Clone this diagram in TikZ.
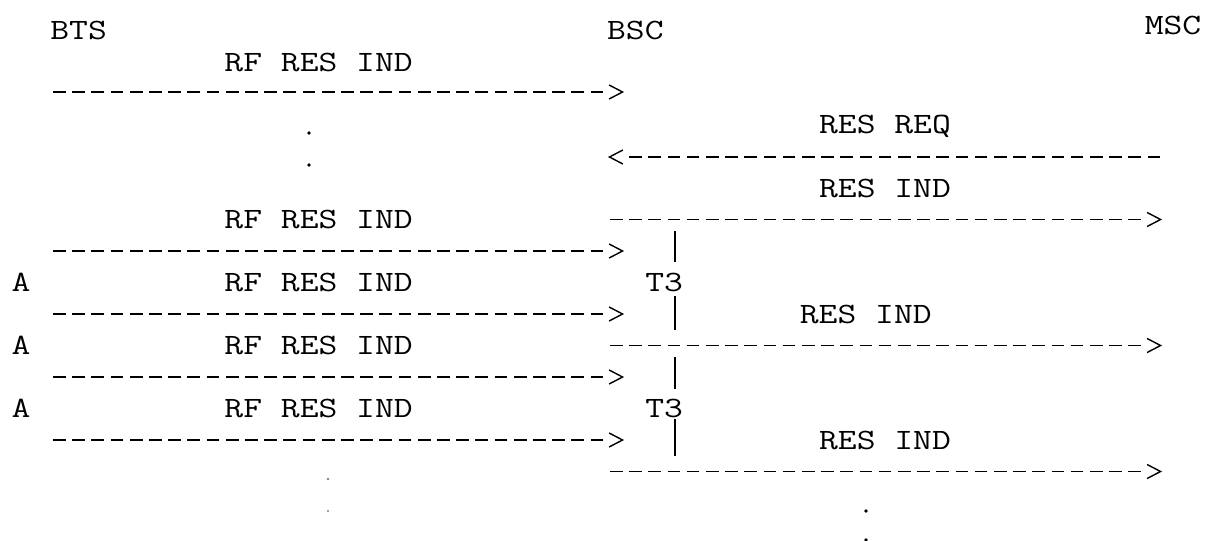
\documentclass[tikz,border=0pt]{standalone}
\usepackage{fontspec}
\usepackage{graphicx}
\newcommand\lbfont{\ttfamily\fontsize{29.5}{30}\selectfont}
\newcommand\tw[1]{\scalebox{1.239}[1]{#1}}
\tikzset{
  lbl/.style={font=\lbfont, anchor=base, inner sep=0pt},
  dl/.style={line width=1.4pt, dash pattern=on 12.7pt off 6.5pt},
  hd/.style={line width=1.4pt, line join=miter},
  bar/.style={line width=1.5pt},
  dot/.style={fill=black, draw=none}
}
\newcommand\rightmsg[2]{%
  \draw[dl] (#1) -- ([xshift=-19.2pt]#2);
  \draw[hd] ([xshift=-13.5pt,yshift=7pt]#2) -- (#2) -- ([xshift=-13.5pt,yshift=-7pt]#2);}
\newcommand\leftmsg[2]{%
  \draw[dl] (#1) -- ([xshift=19.6pt]#2);
  \draw[hd] ([xshift=13.5pt,yshift=7pt]#2) -- (#2) -- ([xshift=13.5pt,yshift=-7pt]#2);}
\begin{document}
\begin{tikzpicture}[x=1pt,y=-1pt]
\useasboundingbox (0,0) rectangle (1208,541);
% headers
\node[lbl] (bts) at (78.6,39.5) {\tw{BTS}};
\node[lbl] (bsc) at (635.4,39.5) {\tw{BSC}};
\node[lbl] (msc) at (1173,34) {\tw{MSC}};
% left labels
\node[lbl] (rf1) at (318.6,71) {\tw{RF RES IND}};
\node[lbl] (rf2) at (318.6,228.5) {\tw{RF RES IND}};
\node[lbl] (rf3) at (318.6,291.5) {\tw{RF RES IND}};
\node[lbl] (rf4) at (318.6,354.5) {\tw{RF RES IND}};
\node[lbl] (rf5) at (318.6,417.5) {\tw{RF RES IND}};
\node[lbl] (a1) at (21,291.5) {\tw{A}};
\node[lbl] (a2) at (21,354.5) {\tw{A}};
\node[lbl] (a3) at (21,417.5) {\tw{A}};
% right labels
\node[lbl] (resreq) at (885,133) {\tw{RES REQ}};
\node[lbl] (resind1) at (885,197) {\tw{RES IND}};
\node[lbl] (resind2) at (865.8,323) {\tw{RES IND}};
\node[lbl] (resind3) at (885,449) {\tw{RES IND}};
\node[lbl] (t3a) at (664.2,291.5) {\tw{T3}};
\node[lbl] (t3b) at (664.2,417.5) {\tw{T3}};
% connector end points
\coordinate (l1s) at (53,92);    \coordinate (l1e) at (622.6,92);
\coordinate (l2s) at (53,251);   \coordinate (l2e) at (622.6,251);
\coordinate (l3s) at (53,314);   \coordinate (l3e) at (622.6,314);
\coordinate (l4s) at (53,377);   \coordinate (l4e) at (622.6,377);
\coordinate (l5s) at (53,440);   \coordinate (l5e) at (622.6,440);
\coordinate (r0s) at (1160.2,157); \coordinate (r0e) at (609.4,157);
\coordinate (r1s) at (609.9,219.5); \coordinate (r1e) at (1160.6,219.5);
\coordinate (r2s) at (609.9,345.5); \coordinate (r2e) at (1160.6,345.5);
\coordinate (r3s) at (609.9,471.5); \coordinate (r3e) at (1160.6,471.5);
% BTS -> BSC
\rightmsg{l1s}{l1e}
\rightmsg{l2s}{l2e}
\rightmsg{l3s}{l3e}
\rightmsg{l4s}{l4e}
\rightmsg{l5s}{l5e}
% MSC -> BSC
\leftmsg{r0s}{r0e}
% BSC -> MSC
\rightmsg{r1s}{r1e}
\rightmsg{r2s}{r2e}
\rightmsg{r3s}{r3e}
% T3 timer bars
\coordinate (b1t) at (675,231); \coordinate (b1b) at (675,262);
\coordinate (b2t) at (675,296); \coordinate (b2b) at (675,330);
\coordinate (b3t) at (675,357); \coordinate (b3b) at (675,389);
\coordinate (b4t) at (675,419); \coordinate (b4b) at (675,456);
\draw[bar] (b1t) -- (b1b);
\draw[bar] (b2t) -- (b2b);
\draw[bar] (b3t) -- (b3b);
\draw[bar] (b4t) -- (b4b);
% continuation dots
\fill[dot] (309,133) circle (1.8);
\fill[dot] (309,165) circle (1.8);
\fill[dot, fill=gray] (328,479) circle (1.4);
\fill[dot, fill=gray] (328,511) circle (1.2);
\fill[dot] (866,511) circle (1.8);
\fill[dot] (866,540) circle (1.8);
\end{tikzpicture}
\end{document}
